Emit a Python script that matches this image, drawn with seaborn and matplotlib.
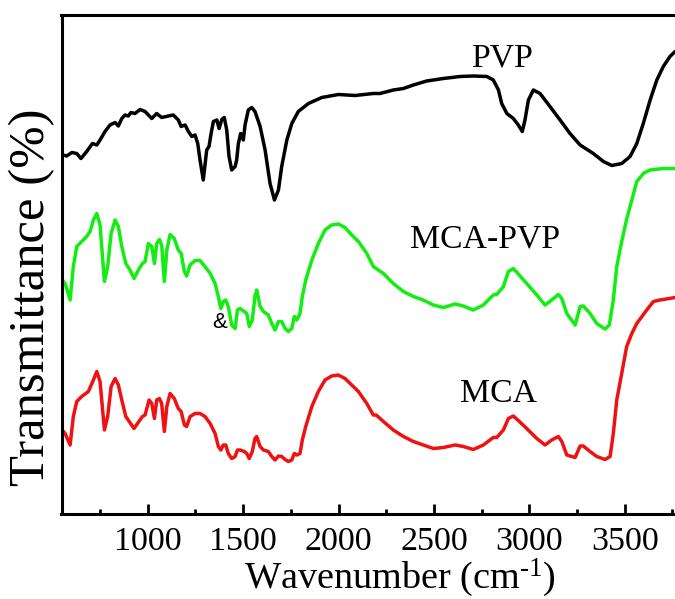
import numpy as np
import pandas as pd
import matplotlib
matplotlib.use("Agg")
import matplotlib.pyplot as plt
from matplotlib.ticker import FixedLocator
import seaborn as sns

# ---------------- data ----------------
wn_pvp = [558, 575, 602, 628, 650, 680, 710, 733, 750, 776, 802, 829, 846, 864, 881, 898, 912, 933, 960, 986,
          1021, 1047, 1073, 1108, 1134, 1160, 1175, 1196, 1213, 1231, 1248, 1262, 1274, 1291, 1309, 1321, 1332,
          1344, 1362, 1374, 1388, 1401, 1414, 1426, 1440, 1458, 1466, 1475, 1487, 1501, 1510, 1527, 1545, 1562,
          1589, 1615, 1641, 1664, 1685, 1702, 1729, 1755, 1789, 1842, 1912, 1999, 2087, 2182, 2217, 2287, 2340,
          2392, 2462, 2549, 2637, 2706, 2777, 2811, 2838, 2855, 2882, 2916, 2942, 2963, 2977, 2995, 3021, 3056,
          3108, 3161, 3213, 3266, 3335, 3388, 3432, 3484, 3528, 3563, 3597, 3633, 3668, 3702, 3737, 3764]
t_pvp = [71.8, 71.6, 72.3, 72.1, 71.1, 72.5, 74.1, 73.8, 74.8, 76.5, 77.8, 78.3, 77.6, 79.1, 79.8, 79.6, 80.3,
         80.1, 80.9, 80.5, 79.1, 80.1, 79.3, 79.6, 79.8, 78.8, 77.5, 77.8, 76.5, 75.5, 75.8, 74.1, 70.8, 66.8,
         72.8, 73.5, 76.1, 78.5, 78.8, 77.1, 78.9, 79.3, 76.8, 71.5, 68.8, 69.5, 70.8, 74.1, 76.1, 74.8, 77.8,
         80.8, 81.3, 80.5, 77.5, 72.8, 66.1, 62.8, 64.8, 69.5, 74.8, 78.1, 80.5, 82.1, 83.3, 83.9, 83.7, 84.1,
         84.1, 84.8, 85.1, 85.8, 86.6, 87.1, 87.5, 87.6, 87.5, 86.8, 84.8, 82.1, 80.1, 79.1, 77.8, 76.5, 78.8,
         82.8, 84.8, 84.1, 81.5, 78.8, 76.1, 73.8, 72.1, 70.5, 69.7, 70.1, 71.5, 74.1, 78.1, 82.8, 86.8, 89.5,
         91.5, 92.5]

wn_mcapvp = [552, 567, 593, 610, 628, 654, 680, 698, 715, 733, 750, 773, 790, 808, 829, 846, 864, 885, 907, 928,
             951, 972, 986, 1003, 1021, 1035, 1047, 1061, 1073, 1087, 1100, 1117, 1139, 1160, 1175, 1192, 1204,
             1222, 1248, 1274, 1300, 1327, 1353, 1370, 1383, 1396, 1409, 1422, 1440, 1458, 1470, 1484, 1506, 1519,
             1532, 1548, 1562, 1571, 1589, 1606, 1632, 1650, 1667, 1685, 1702, 1720, 1737, 1755, 1768, 1781, 1798,
             1810, 1828, 1860, 1894, 1929, 1964, 1999, 2034, 2069, 2104, 2148, 2182, 2235, 2287, 2340, 2392, 2444,
             2497, 2549, 2611, 2654, 2706, 2759, 2811, 2829, 2864, 2890, 2916, 2942, 2986, 3039, 3082, 3117, 3152,
             3170, 3196, 3240, 3266, 3283, 3318, 3353, 3397, 3419, 3440, 3458, 3484, 3510, 3537, 3563, 3600, 3633,
             3702, 3764]
t_mcapvp = [46.8, 46.1, 42.8, 49.5, 53.5, 54.5, 55.5, 56.5, 58.8, 60.1, 57.8, 46.5, 49.5, 56.1, 58.8, 57.5, 53.5,
            50.1, 48.8, 47.1, 48.8, 50.1, 50.5, 54.1, 53.5, 50.1, 54.1, 54.9, 53.8, 46.5, 52.8, 55.9, 55.1, 52.8,
            52.1, 48.5, 47.6, 49.8, 50.7, 50.7, 49.5, 48.1, 46.1, 43.5, 41.1, 42.5, 42.8, 41.5, 37.8, 37.1, 40.8,
            41.1, 40.5, 40.1, 37.5, 38.8, 43.5, 44.8, 41.5, 40.5, 39.8, 38.1, 36.8, 38.5, 38.5, 37.1, 36.5, 37.1,
            39.5, 38.8, 40.1, 43.5, 46.8, 50.8, 54.1, 56.8, 57.8, 58.0, 57.3, 55.8, 54.5, 52.1, 49.5, 48.1, 46.1,
            44.5, 43.5, 42.8, 41.8, 41.3, 42.0, 41.6, 40.8, 41.8, 43.8, 43.9, 45.5, 48.5, 49.1, 48.0, 46.1, 43.8,
            41.8, 42.8, 43.9, 43.1, 40.1, 37.8, 41.5, 41.6, 40.1, 38.1, 37.0, 37.8, 42.8, 49.5, 54.5, 59.0, 62.8,
            66.5, 68.2, 68.8, 69.1, 69.1]

wn_mca = [552, 567, 593, 610, 628, 654, 689, 715, 733, 750, 773, 790, 808, 829, 846, 864, 885, 928, 972, 986,
          1007, 1021, 1035, 1047, 1061, 1073, 1087, 1100, 1117, 1139, 1160, 1175, 1192, 1204, 1222, 1248, 1274,
          1300, 1327, 1353, 1370, 1383, 1396, 1409, 1422, 1440, 1458, 1470, 1484, 1506, 1519, 1532, 1548, 1562,
          1571, 1589, 1606, 1632, 1650, 1667, 1685, 1702, 1720, 1737, 1755, 1768, 1781, 1798, 1810, 1828, 1860,
          1894, 1929, 1964, 1999, 2034, 2069, 2104, 2148, 2182, 2197, 2235, 2287, 2340, 2392, 2444, 2497, 2549,
          2611, 2654, 2706, 2759, 2811, 2829, 2864, 2890, 2916, 2942, 2986, 3039, 3082, 3117, 3152, 3170, 3196,
          3240, 3266, 3283, 3318, 3353, 3397, 3423, 3440, 3458, 3484, 3510, 3537, 3563, 3615, 3650, 3685, 3764]
t_mca = [16.8, 16.1, 13.8, 19.5, 22.5, 23.5, 24.5, 26.8, 28.5, 26.5, 16.8, 19.5, 25.5, 27.1, 25.8, 22.8, 19.5,
         17.1, 19.5, 19.8, 22.8, 22.1, 19.1, 22.8, 23.1, 22.1, 16.5, 21.5, 24.1, 23.1, 21.1, 20.5, 17.8, 17.5,
         19.5, 20.1, 20.1, 19.5, 18.1, 16.1, 13.5, 12.8, 13.8, 13.8, 12.1, 11.1, 11.5, 12.8, 12.8, 12.5, 12.1,
         11.1, 12.5, 15.1, 15.5, 13.5, 12.8, 12.5, 11.5, 10.8, 11.6, 11.5, 10.9, 10.5, 10.8, 12.1, 11.8, 12.1,
         14.8, 17.5, 21.5, 24.5, 26.8, 27.6, 27.8, 27.1, 25.8, 24.5, 22.1, 19.8, 19.8, 18.5, 16.8, 15.5, 14.5,
         13.8, 13.1, 13.3, 13.8, 13.5, 12.9, 13.8, 15.3, 15.3, 16.8, 19.1, 19.6, 18.7, 17.1, 15.1, 13.8, 14.8,
         15.5, 14.5, 11.8, 11.3, 13.6, 13.6, 12.5, 11.5, 10.9, 11.5, 16.1, 22.8, 28.1, 33.5, 36.1, 38.1, 40.8,
         42.5, 42.8, 43.3]

series_names = ["PVP", "MCA-PVP", "MCA"]
series_colors = {"PVP": "#000000", "MCA-PVP": "#12ee12", "MCA": "#ee1212"}
label_pos = {"PVP": (2855, 91.1), "MCA-PVP": (2768, 54.9), "MCA": (2837, 24.1)}
mark_text, mark_pos = "&", (1379, 38.3)
x_major = [1000, 1500, 2000, 2500, 3000, 3500]
x_minor = [750, 1250, 1750, 2250, 2750, 3250, 3750]

# ---------------- plotting ----------------
sns.set_theme(style="ticks")
plt.rcParams["font.family"] = ["Liberation Serif", "DejaVu Serif"]
plt.rcParams["mathtext.fontset"] = "custom"
plt.rcParams["mathtext.rm"] = "Liberation Serif"
plt.rcParams["mathtext.it"] = "Liberation Serif:italic"
plt.rcParams["axes.edgecolor"] = "black"
plt.rcParams["xtick.color"] = "black"
plt.rcParams["text.color"] = "black"
plt.rcParams["axes.labelcolor"] = "black"

df = pd.concat([
    pd.DataFrame({"wn": wn_pvp, "T": t_pvp, "sample": "PVP"}),
    pd.DataFrame({"wn": wn_mcapvp, "T": t_mcapvp, "sample": "MCA-PVP"}),
    pd.DataFrame({"wn": wn_mca, "T": t_mca, "sample": "MCA"}),
], ignore_index=True)

W, H = 675, 599
fig = plt.figure(figsize=(W / 100, H / 100), dpi=100)
ax = fig.add_axes([61.5 / W, 85 / H, 618.6 / W, 499 / H])

sns.lineplot(data=df, x="wn", y="T", hue="sample", hue_order=series_names,
             palette=series_colors, linewidth=2.5, legend=False, ax=ax,
             estimator=None, sort=False)

ax.set_xlim(548, 3790)
ax.set_ylim(0, 99.8)
ax.set_yticks([])
ax.xaxis.set_major_locator(FixedLocator(x_major))
ax.xaxis.set_minor_locator(FixedLocator(x_minor))
ax.tick_params(axis="x", which="major", direction="in", length=7, width=2,
               labelsize=24.5, pad=9)
ax.tick_params(axis="x", which="minor", direction="in", length=3.5, width=2)
for s in ax.spines.values():
    s.set_linewidth(2.2)
    s.set_color("black")

ax.set_xlabel("Wavenumber (cm$^{\\text{-1}}$)", fontsize=27.5, va="center")
ax.xaxis.set_label_coords(0.547, -0.128)
ax.set_ylabel("Transmittance (%)", fontsize=36.5, va="center")
ax.yaxis.set_label_coords(-0.048, 0.435)

for name in series_names:
    x, y = label_pos[name]
    ax.text(x, y, name, fontsize=24.3, ha="center", va="center")
ax.text(mark_pos[0], mark_pos[1], mark_text, fontsize=16, ha="center", va="center",
        family=["Liberation Sans", "DejaVu Sans"])

fig.savefig("out.png", dpi=100)
